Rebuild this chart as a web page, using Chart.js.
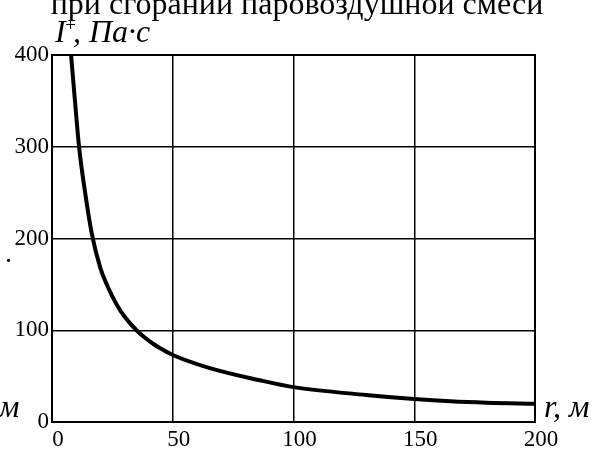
<!doctype html>
<html>
	<head>
		<title>Импульс давления</title>
		<script src="https://cdn.jsdelivr.net/npm/chart.js@4.4.1/dist/chart.umd.min.js"></script>
		<style>
			html, body {
				margin: 0;
				padding: 0;
				background: #fff;
			}
			#wrapper {
				width: 595px;
				height: 450px;
			}
		</style>
	</head>
	<body>
		<div id="wrapper"><canvas id="canvas_0" width="595" height="450"></canvas></div>

		<script>
			// distance r, m
			var distances = [7.9, 9.5, 11.2, 14, 16.5, 20, 23, 27, 30, 35, 38, 42, 45, 50, 65, 86, 100, 130, 150, 165, 180, 200];
			// positive phase impulse I+, Pa*s
			var impulses = [400, 350, 300, 245, 205, 168, 148, 127, 115, 100, 93, 85, 80, 73, 59, 45.5, 38, 29.5, 25, 22.5, 21, 20];
			var xTicks = [0, 50, 100, 150, 200];
			var yTicks = [0, 100, 200, 300, 400];

			var serif = '"Liberation Serif", "Times New Roman", serif';

			var frameAndText = {
				id: 'frameAndText',
				afterDraw: function(chart) {
					var ctx = chart.ctx;
					var a = chart.chartArea;
					ctx.save();
					ctx.strokeStyle = '#000';
					ctx.lineWidth = 2;
					ctx.strokeRect(a.left, a.top, a.right - a.left, a.bottom - a.top);

					ctx.fillStyle = '#000';
					ctx.textBaseline = 'alphabetic';

					ctx.font = '32px ' + serif;
					ctx.textAlign = 'center';
					ctx.fillText('при сгорании паровоздушной смеси', 297, 14);

					ctx.textAlign = 'left';
					ctx.font = 'italic 32px ' + serif;
					ctx.fillText('I', 55, 42);
					ctx.font = 'italic 19px ' + serif;
					ctx.fillText('+', 64, 31);
					ctx.font = 'italic 32px ' + serif;
					ctx.fillText(', Па·с', 73, 42);

					ctx.font = 'italic 32px ' + serif;
					ctx.fillText('r, м', 544, 417);
					ctx.fillText('м', -1, 417);

					ctx.font = '28px ' + serif;
					ctx.fillText('.', 5, 262);
					ctx.restore();
				}
			};

			window.onload = function() {
				var canvas = document.getElementById('canvas_0');
				var points = distances.map(function(r, i) {
					return { x: r, y: impulses[i] };
				});

				new Chart(canvas.getContext('2d'), {
					type: 'line',
					data: {
						datasets: [{
							data: points,
							borderColor: '#000',
							borderWidth: 4,
							pointRadius: 0,
							cubicInterpolationMode: 'monotone',
							fill: false
						}]
					},
					options: {
						responsive: false,
						animation: false,
						layout: { padding: { left: 0, top: 55, right: 60, bottom: 0 } },
						plugins: {
							legend: { display: false },
							tooltip: { enabled: false }
						},
						scales: {
							x: {
								type: 'linear',
								min: 0,
								max: 200,
								afterFit: function(s) { s.height = 28; },
								afterBuildTicks: function(s) {
									s.ticks = xTicks.map(function(v) { return { value: v }; });
								},
								border: { display: false },
								grid: { color: '#000', lineWidth: 1.5, drawTicks: false },
								ticks: {
									color: '#000',
									padding: 4,
									labelOffset: 6,
									maxRotation: 0,
									font: { family: serif, size: 23 }
								}
							},
							y: {
								min: 0,
								max: 400,
								afterFit: function(s) { s.width = 52; },
								afterBuildTicks: function(s) {
									s.ticks = yTicks.map(function(v) { return { value: v }; });
								},
								border: { display: false },
								grid: { color: '#000', lineWidth: 1.5, drawTicks: false },
								ticks: {
									color: '#000',
									padding: 3,
									font: { family: serif, size: 23 }
								}
							}
						}
					},
					plugins: [frameAndText]
				});
			};
		</script>
	</body>
</html>
